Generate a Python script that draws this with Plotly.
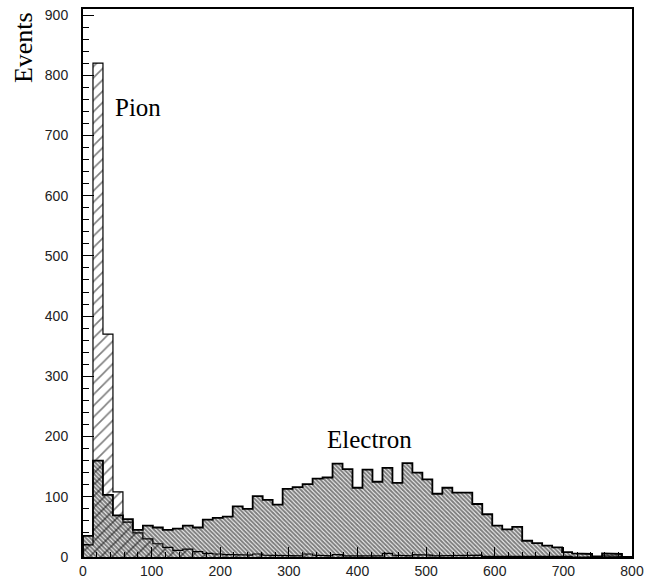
import plotly.graph_objects as go

# ---- data ----
x_min, x_max, n_bins = 0.0, 800.0, 55
electron_counts = [35, 160, 103, 69, 63, 45, 52, 49, 45, 47,
                   52, 49, 62, 65, 67, 84, 80, 101, 95, 87,
                   113, 116, 121, 130, 132, 155, 146, 115, 145, 125,
                   148, 123, 156, 140, 129, 105, 115, 107, 107, 88,
                   71, 52, 46, 50, 27, 23, 19, 16, 8, 6,
                   5, 1, 6, 5, 0]
pion_counts = [20, 820, 370, 108, 58, 40, 30, 22, 16, 11,
               13, 9, 6, 5, 4, 4, 3, 5, 3, 2,
               3, 2, 5, 3, 2, 4, 2, 3, 2, 2,
               6, 3, 2, 4, 3, 2, 3, 2, 2, 3,
               1, 2, 2, 2, 1, 2, 1, 1, 1, 0,
               1, 0, 2, 1, 0]
labels = {"pion": "Pion", "electron": "Electron", "y": "Events"}

bw = (x_max - x_min) / n_bins
edges = [x_min + i * bw for i in range(n_bins + 1)]
centers = [x_min + (i + 0.5) * bw for i in range(n_bins)]


def step_outline(counts):
    xs, ys = [edges[0]], [0]
    for i, c in enumerate(counts):
        xs += [edges[i], edges[i + 1]]
        ys += [c, c]
    xs.append(edges[-1])
    ys.append(0)
    return xs, ys


fig = go.Figure()

# electron: dense hatch
fig.add_trace(go.Bar(
    x=centers, y=electron_counts, width=[bw] * n_bins,
    marker=dict(color="white",
                pattern=dict(shape="\\", fgcolor="black", bgcolor="white",
                             size=3, solidity=0.7),
                line=dict(width=0)),
    showlegend=False, hoverinfo="skip"))

# pion: sparse hatch, transparent background
fig.add_trace(go.Bar(
    x=centers, y=pion_counts, width=[bw] * n_bins,
    marker=dict(color="rgba(0,0,0,0)",
                pattern=dict(shape="/", fgcolor="black", bgcolor="rgba(0,0,0,0)",
                             size=8, solidity=0.2),
                line=dict(width=0)),
    showlegend=False, hoverinfo="skip"))

ex, ey = step_outline(electron_counts)
fig.add_trace(go.Scatter(x=ex, y=ey, mode="lines",
                         line=dict(color="black", width=1.8),
                         showlegend=False, hoverinfo="skip"))
px_, py_ = step_outline(pion_counts)
fig.add_trace(go.Scatter(x=px_, y=py_, mode="lines",
                         line=dict(color="black", width=1.2),
                         showlegend=False, hoverinfo="skip"))

tick_font = dict(family="Liberation Sans, Arial, sans-serif", size=14, color="#222")

fig.update_layout(
    width=651, height=586,
    margin=dict(l=83, r=13, t=7, b=24),
    paper_bgcolor="white", plot_bgcolor="white",
    barmode="overlay", bargap=0,
    xaxis=dict(range=[x_min, x_max], showgrid=False, zeroline=False,
               showline=True, linecolor="black", linewidth=2, mirror=True,
               ticks="inside", ticklen=10, tickwidth=1.4, tickcolor="black",
               tickmode="array", tickvals=[0, 100, 200, 300, 400, 500, 600, 700, 800],
               ticktext=["0", "100", "200", "300", "400", "500", "600", "700", "800"],
               tickfont=tick_font,
               minor=dict(ticks="inside", ticklen=5, tickwidth=1.2, tickcolor="black",
                          dtick=20, tick0=0, showgrid=False)),
    yaxis=dict(range=[0, 910], showgrid=False, zeroline=False,
               showline=True, linecolor="black", linewidth=2, mirror=True,
               ticks="inside", ticklen=11, tickwidth=1.4, tickcolor="black",
               tickmode="array", tickvals=[0, 100, 200, 300, 400, 500, 600, 700, 800, 900],
               ticktext=["0", "100", "200", "300", "400", "500", "600", "700", "800", "900"],
               tickfont=tick_font, ticklabelstandoff=10,
               minor=dict(ticks="inside", ticklen=6, tickwidth=1.2, tickcolor="black",
                          dtick=20, tick0=0, showgrid=False)),
    annotations=[
        dict(x=43, y=746, xref="x", yref="y", text=labels["pion"], showarrow=False,
             xanchor="left", yanchor="middle",
             font=dict(family="Liberation Serif, Times New Roman, serif", size=25, color="black")),
        dict(x=353, y=195, xref="x", yref="y", text=labels["electron"], showarrow=False,
             xanchor="left", yanchor="middle",
             font=dict(family="Liberation Serif, Times New Roman, serif", size=25, color="black")),
        dict(x=-0.108, y=0.93, xref="paper", yref="paper", text=labels["y"], showarrow=False,
             textangle=-90, xanchor="center", yanchor="middle",
             font=dict(family="Liberation Serif, Times New Roman, serif", size=26, color="black")),
    ],
)

fig.write_html("out.html")
